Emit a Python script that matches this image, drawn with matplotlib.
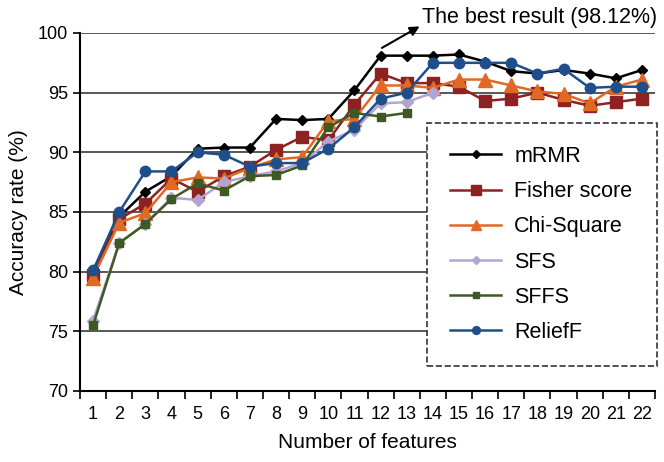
import numpy as np
import matplotlib
matplotlib.use("Agg")
from matplotlib import pyplot as plt
from matplotlib.ticker import MultipleLocator

plt.rcParams["font.family"] = ["Liberation Sans", "DejaVu Sans"]

# accuracy rate (%) per number of selected features
features = np.arange(1, 23)
mrmr = [80.0, 84.6, 86.7, 88.0, 90.3, 90.4, 90.4, 92.8, 92.7, 92.8, 95.2,
        98.1, 98.1, 98.1, 98.2, 97.6, 96.8, 96.6, 96.9, 96.6, 96.2, 96.9]
fisher = [79.7, 84.4, 85.7, 87.8, 86.7, 88.0, 88.8, 90.2, 91.3, 91.0, 94.0,
          96.6, 95.8, 95.8, 95.5, 94.3, 94.5, 95.0, 94.4, 93.9, 94.2, 94.5]
chi = [79.5, 84.1, 84.9, 87.5, 87.9, 87.8, 88.7, 89.4, 89.6, 92.6, 92.8,
       95.6, 95.6, 95.4, 96.1, 96.1, 95.6, 95.1, 94.9, 94.1, 95.5, 96.1]
sfs = [75.9, 82.4, 84.0, 86.2, 86.0, 87.5, 88.0, 88.4, 89.1, 90.9, 91.9,
       94.1, 94.2, 95.0]
sffs = [75.5, 82.4, 84.0, 86.1, 87.4, 86.8, 88.0, 88.1, 88.9, 92.1, 93.3,
        93.0, 93.3]
relieff = [80.1, 85.0, 88.4, 88.4, 90.0, 89.8, 88.8, 89.1, 89.1, 90.3, 92.1,
           94.5, 95.0, 97.5, 97.5, 97.5, 97.5, 96.6, 97.0, 95.4, 95.5, 95.5]

fig = plt.figure(figsize=(6.64, 4.62), dpi=100)
ax = fig.add_axes([0.1205, 0.1537, 0.866, 0.7749])

# grid lines
for g in [75, 80, 85, 90, 95, 100]:
    ax.axhline(g, color="#4a4a4a", lw=1.3, zorder=1)

lw = 1.8
ax.plot(features, mrmr, color="black", marker="D", ms=5.5, lw=lw, label="mRMR", zorder=3)
ax.plot(features, fisher, color="#8c2222", marker="s", ms=9, lw=lw, label="Fisher score", zorder=3)
ax.plot(features, chi, color="#e06a24", marker="^", ms=10, lw=lw, label="Chi-Square", zorder=3)
ax.plot(features[:len(sfs)], sfs, color="#b4a4d2", marker="D", ms=6, lw=lw, label="SFS", zorder=3)
ax.plot(features[:len(sffs)], sffs, color="#3e5a22", marker="s", ms=6, lw=lw, label="SFFS", zorder=3)
ax.plot(features, relieff, color="#1f4f8a", marker="o", ms=7.5, lw=lw, label="ReliefF", zorder=3)

ax.set_xlim(0.5, 22.5)
ax.set_ylim(70, 100)
ax.set_xticks(features)
ax.set_xticklabels([str(f) for f in features])
ax.xaxis.set_minor_locator(MultipleLocator(1, offset=0.5))
ax.tick_params(axis="x", which="major", length=0, labelsize=13, pad=11)
ax.tick_params(axis="x", which="minor", length=6, width=1.2, direction="out")
ax.set_yticks(np.arange(70, 101, 5))
ax.tick_params(axis="y", length=5, width=1.2, labelsize=13)

for s in ["top", "right"]:
    ax.spines[s].set_visible(False)
ax.spines["left"].set_linewidth(1.5)
ax.spines["bottom"].set_linewidth(1.5)

ax.set_xlabel("Number of features", fontsize=15, labelpad=7)
ax.set_ylabel("Accuracy rate (%)", fontsize=15, labelpad=7)

ax.annotate("The best result (98.12%)", xy=(12.05, 98.75), xytext=(13.6, 101.3),
            fontsize=15.5, ha="left", va="center", annotation_clip=False,
            arrowprops=dict(arrowstyle="<|-", color="black", lw=1.5,
                            mutation_scale=14, shrinkA=0, shrinkB=0,
                            relpos=(0.0, 0.15)))

leg = ax.legend(loc="upper left", bbox_to_anchor=(0.603, 0.0615, 0.4, 0.6875),
                mode="expand", borderaxespad=0, fontsize=15.5, fancybox=False,
                framealpha=1, edgecolor="#333333", handlelength=2.4,
                handletextpad=0.6, labelspacing=0.66, borderpad=1.07,
                markerscale=0.75)
leg.get_frame().set_linestyle("--")
leg.get_frame().set_linewidth(1.2)
leg.set_zorder(5)

plt.savefig("out.png", dpi=100)
